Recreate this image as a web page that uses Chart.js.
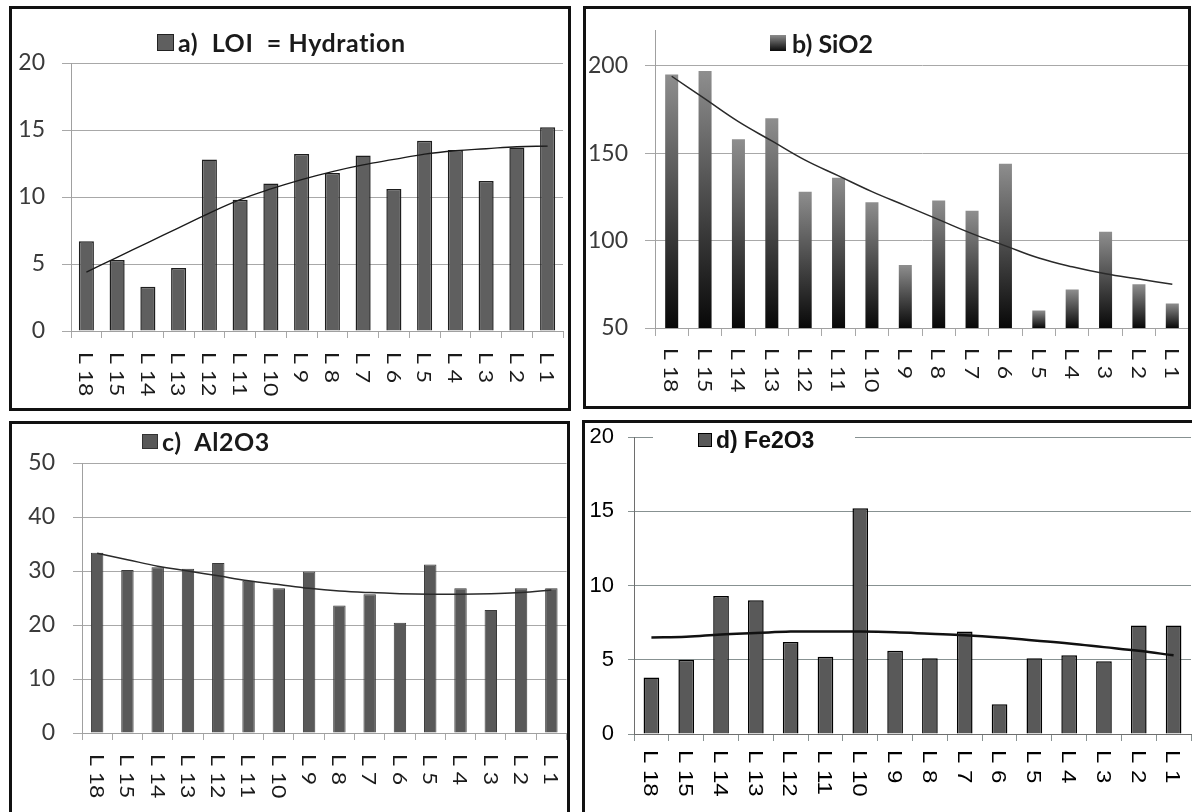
<!DOCTYPE html>
<html>
<head>
<meta charset="utf-8">
<script src="https://cdn.jsdelivr.net/npm/chart.js@4.4.1/dist/chart.umd.min.js"></script>
<style>
  html, body { margin: 0; padding: 0; background: #fff; }
  body { width: 1192px; height: 812px; position: relative; overflow: hidden; }
  .layer { position: absolute; left: 0; top: 0; width: 1192px; height: 812px; }
  .frame { position: absolute; box-sizing: border-box; border: 3px solid #111; pointer-events: none; }
  .lg { position: absolute; display: flex; align-items: center; white-space: pre; color: #1a1a1a; }
  .lg .box { box-sizing: border-box; margin-right: 4px; }
</style>
</head>
<body>
<div class="layer"><canvas id="chA"></canvas></div>
<div class="layer"><canvas id="chB"></canvas></div>
<div class="layer"><canvas id="chC"></canvas></div>
<div class="layer"><canvas id="chD"></canvas></div>

<div class="frame" style="left:9px;top:6px;width:562px;height:405px;"></div>
<div class="frame" style="left:583px;top:6px;width:608px;height:403px;"></div>
<div class="frame" style="left:9px;top:421px;width:561px;height:400px;"></div>
<div class="frame" style="left:582px;top:420px;width:620px;height:400px;"></div>

<div class="lg" style="left:157px;top:27px;height:30px;font:bold 25px Lato;letter-spacing:0.6px;">
  <div class="box" style="width:17px;height:17px;background:#5f5f5f;border:1.5px solid #222;"></div>a)  LOI  = Hydration</div>
<div class="lg" style="left:770px;top:28px;height:30px;font:bold 25px Lato;">
  <div class="box" style="width:16px;height:16px;background:linear-gradient(#8c8c8c,#0a0a0a);margin-right:6px;"></div>b) SiO2</div>
<div class="lg" style="left:142px;top:426px;height:30px;font:bold 25px Lato;letter-spacing:0.6px;">
  <div class="box" style="width:16px;height:15px;background:#595959;border:1px solid #333;"></div>c)  Al2O3</div>
<div class="lg" style="left:653px;top:429px;width:202px;height:22px;background:#fff;padding-left:45px;box-sizing:border-box;font:bold 23px 'Liberation Sans';color:#111;">
  <div class="box" style="width:14px;height:14px;background:#595959;border:1.5px solid #000;"></div>d) Fe2O3</div>

<script>
const categories = ['L 18', 'L 15', 'L 14', 'L 13', 'L 12', 'L 11', 'L 10', 'L 9', 'L 8', 'L 7', 'L 6', 'L 5', 'L 4', 'L 3', 'L 2', 'L 1'];

const loi = [6.7, 5.3, 3.3, 4.7, 12.8, 9.8, 11.0, 13.2, 11.8, 13.1, 10.6, 14.2, 13.5, 11.2, 13.7, 15.2];
const loiTrend = [4.4, 5.5, 6.6, 7.7, 8.8, 9.8, 10.6, 11.3, 11.9, 12.4, 12.8, 13.2, 13.45, 13.6, 13.75, 13.8];

const sio2 = [195, 197, 158, 170, 128, 136, 122, 86, 123, 117, 144, 60, 72, 105, 75, 64];
const sio2Trend = [194, 181, 168, 157, 146, 137, 128, 120, 112, 104, 97, 90, 85, 81, 78, 75];

const al2o3 = [33.4, 30.2, 30.7, 30.4, 31.5, 28.2, 26.8, 29.9, 23.6, 25.7, 20.4, 31.2, 26.8, 22.8, 26.8, 26.8];
const al2o3Trend = [33.3, 32.1, 30.9, 30.0, 29.1, 28.2, 27.5, 26.8, 26.3, 26.0, 25.8, 25.7, 25.7, 25.8, 26.0, 26.5];

const fe2o3 = [3.8, 5.0, 9.3, 9.0, 6.2, 5.2, 15.2, 5.6, 5.1, 6.9, 2.0, 5.1, 5.3, 4.9, 7.3, 7.3];
const fe2o3Trend = [6.5, 6.55, 6.7, 6.8, 6.9, 6.9, 6.9, 6.85, 6.75, 6.65, 6.5, 6.3, 6.1, 5.85, 5.6, 5.3];

const yTicksA = [0, 5, 10, 15, 20];
const yTicksB = [50, 100, 150, 200];
const yTicksC = [0, 10, 20, 30, 40, 50];
const yTicksD = [0, 5, 10, 15, 20];

const W = 1192, H = 812;
const X_H = 70;

// rotated (top-to-bottom) category labels under the x axis
const vLabels = {
  id: 'vLabels',
  afterDraw(chart, args, o) {
    const sx = chart.scales.x;
    const c = chart.ctx;
    c.save();
    c.font = o.size + 'px ' + o.family;
    c.fillStyle = o.color;
    c.textAlign = 'left';
    c.textBaseline = 'alphabetic';
    chart.data.labels.forEach((lab, i) => {
      const x = sx.getPixelForTick(i);
      c.save();
      c.translate(x, sx.top + o.offset);
      c.rotate(Math.PI / 2);
      c.scale(o.stretch, 1);
      c.fillText(lab, 0, o.size * 0.36);
      c.restore();
    });
    c.restore();
  }
};

function makeChart(id, p) {
  const a = p.area;
  return new Chart(document.getElementById(id), {
    data: {
      labels: categories,
      datasets: [
        {
          type: 'line',
          data: p.trend,
          borderColor: p.lineColor,
          borderWidth: p.lineWidth,
          pointRadius: 0,
          tension: 0.4,
          fill: false,
          order: 0
        },
        {
          type: 'bar',
          data: p.values,
          backgroundColor: p.barColor,
          borderColor: p.barBorder,
          borderWidth: p.barBorderWidth,
          borderSkipped: 'bottom',
          barPercentage: p.barPct,
          categoryPercentage: 1,
          order: 1
        }
      ]
    },
    options: {
      responsive: true,
      maintainAspectRatio: false,
      animation: false,
      events: [],
      layout: {
        padding: { left: a.l - p.yW, top: a.t, right: W - a.r, bottom: H - a.b - X_H }
      },
      plugins: {
        legend: { display: false },
        tooltip: { enabled: false },
        vLabels: p.xl
      },
      scales: {
        x: {
          offset: true,
          afterFit: s => { s.height = X_H; },
          grid: { offset: true, drawOnChartArea: false, drawTicks: true, tickLength: p.xTick, color: p.gridColor, lineWidth: 1 },
          border: { display: true, color: p.axisColor, width: 1 },
          ticks: { display: false }
        },
        y: {
          min: p.min,
          max: p.max,
          afterFit: s => { s.width = p.yW; },
          afterBuildTicks: s => { s.ticks = p.yTicks.map(v => ({ value: v })); },
          grid: { color: p.gridColor, lineWidth: 1, drawTicks: true, tickLength: p.yTick },
          border: { display: true, color: p.axisColor, width: 1 },
          ticks: { color: p.tickColor, font: p.tickFont, padding: p.yPad }
        }
      }
    },
    plugins: [vLabels]
  });
}

const calibriLike = { family: 'Lato', size: 23 };

makeChart('chA', {
  area: { l: 71, t: 63, r: 563, b: 331 }, yW: 58,
  values: loi, trend: loiTrend, min: 0, max: 20, yTicks: yTicksA,
  barColor: '#5f5f5f', barBorder: '#1e1e1e', barBorderWidth: 1.5, barPct: 0.49,
  lineColor: '#1a1a1a', lineWidth: 1.3,
  gridColor: '#a8a8a8', axisColor: '#a0a0a0', tickColor: '#3a3a3a', tickFont: calibriLike,
  yTick: 9, yPad: 17, xTick: 7,
  xl: { family: 'Lato', size: 20, color: '#1a1a1a', offset: 21, stretch: 1.15 }
});

makeChart('chB', {
  area: { l: 655, t: 24, r: 1189, b: 328 }, yW: 70,
  values: sio2, trend: sio2Trend, min: 50, max: 220, yTicks: yTicksB,
  barColor: ctx => {
    const ch = ctx.chart;
    const area = ch.chartArea;
    if (!area || ctx.raw === undefined) return '#555';
    const top = ch.scales.y.getPixelForValue(ctx.raw);
    const g = ch.ctx.createLinearGradient(0, top, 0, area.bottom);
    g.addColorStop(0, '#8e8e8e');
    g.addColorStop(1, '#080808');
    return g;
  },
  barBorder: 'rgba(0,0,0,0)', barBorderWidth: 0, barPct: 0.39,
  lineColor: '#2a2a2a', lineWidth: 1.5,
  gridColor: '#a8a8a8', axisColor: '#a0a0a0', tickColor: '#3a3a3a', tickFont: calibriLike,
  yTick: 10, yPad: 17, xTick: 8,
  xl: { family: 'Lato', size: 20, color: '#1a1a1a', offset: 20, stretch: 1.15 }
});

makeChart('chC', {
  area: { l: 82, t: 463, r: 566.5, b: 733 }, yW: 62,
  values: al2o3, trend: al2o3Trend, min: 0, max: 50, yTicks: yTicksC,
  barColor: '#595959', barBorder: '#3a3a3a', barBorderWidth: 1, barPct: 0.41,
  lineColor: '#2a2a2a', lineWidth: 1.5,
  gridColor: '#a8a8a8', axisColor: '#a0a0a0', tickColor: '#3a3a3a', tickFont: calibriLike,
  yTick: 9, yPad: 18, xTick: 7,
  xl: { family: 'Lato', size: 20, color: '#1a1a1a', offset: 21, stretch: 1.15 }
});

makeChart('chD', {
  area: { l: 634, t: 437, r: 1191, b: 734 }, yW: 50,
  values: fe2o3, trend: fe2o3Trend, min: 0, max: 20, yTicks: yTicksD,
  barColor: '#595959', barBorder: '#000', barBorderWidth: 1.5, barPct: 0.45,
  lineColor: '#111', lineWidth: 2.5,
  gridColor: '#879191', axisColor: '#6e6e6e', tickColor: '#000', tickFont: { family: 'Liberation Sans', size: 22 },
  yTick: 6, yPad: 14, xTick: 7,
  xl: { family: 'Liberation Sans', size: 20, color: '#000', offset: 16, stretch: 1.2 }
});
</script>
</body>
</html>
